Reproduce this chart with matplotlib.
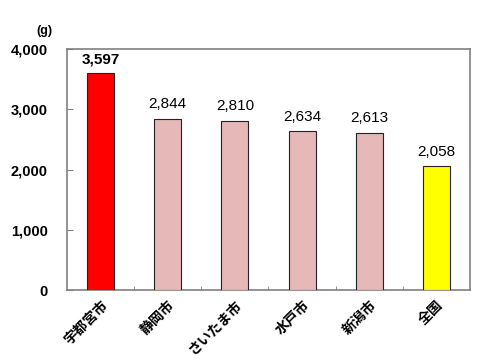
import matplotlib
matplotlib.use("Agg")
import matplotlib.pyplot as plt
from matplotlib.ticker import FuncFormatter, FixedLocator

plt.rcParams['font.family'] = ['Noto Sans CJK JP', 'DejaVu Sans']

categories = ["宇都宮市", "静岡市", "さいたま市", "水戸市", "新潟市", "全国"]
values = [3597, 2844, 2810, 2634, 2613, 2058]
colors = ["#ff0000", "#e6b8b7", "#e6b8b7", "#e6b8b7", "#e6b8b7", "#ffff00"]
yticks = [0, 1000, 2000, 3000, 4000]

fig = plt.figure(figsize=(4.87, 3.60), dpi=100)
ax = fig.add_axes([67/487, 1-290/360, 403/487, 241/360])

x = list(range(len(categories)))
ax.bar(x, values, width=0.4, color=colors, edgecolor="#222222", linewidth=0.8, zorder=3)
ax.set_xlim(-0.5, len(categories)-0.5)
ax.set_ylim(0, 4000)
ax.set_yticks(yticks)
ax.yaxis.set_major_formatter(FuncFormatter(lambda v, p: f"{int(v):,}"))
ax.tick_params(axis='y', direction='in', length=4, labelsize=10.5, pad=14, color="#808080")
for lab in ax.get_yticklabels():
    lab.set_fontweight('bold')
    lab.set_family(['Liberation Sans', 'DejaVu Sans'])

ax.set_xticks(x)
ax.set_xticklabels(categories, rotation=45, ha='right', rotation_mode='anchor',
                   fontsize=10, fontweight='bold')
ax.tick_params(axis='x', length=0, pad=6)
ax.xaxis.set_minor_locator(FixedLocator([i + 0.5 for i in range(len(categories)-1)]))
ax.tick_params(axis='x', which='minor', direction='in', length=3, color="#808080")

for s in ax.spines.values():
    s.set_color("#808080")
    s.set_linewidth(1.2)

for i, v in enumerate(values):
    ax.text(i, v + 120, f"{v:,}", ha='center', va='bottom', fontsize=11,
            fontweight='bold' if i == 0 else 'normal',
            family=['Liberation Sans', 'DejaVu Sans'])

fig.text(36/487, 1-31/360, "(g)", fontsize=9, fontweight='bold',
         family=['Liberation Sans', 'DejaVu Sans'], ha='left', va='center')

fig.savefig("out.png", dpi=100)
